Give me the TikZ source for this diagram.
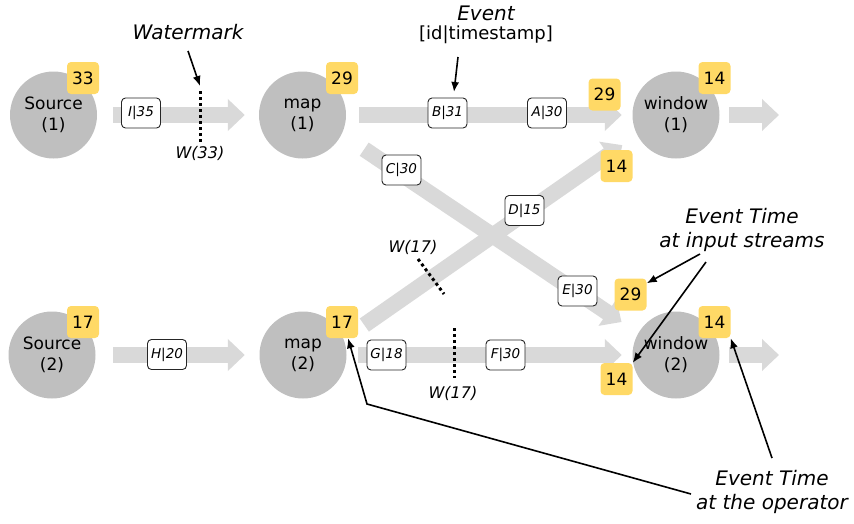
\documentclass[tikz,border=0pt]{standalone}
\usepackage{fontspec}
\setmainfont{DejaVu Sans}
\usetikzlibrary{arrows.meta,positioning}
\definecolor{opgray}{HTML}{BFBFBF}
\definecolor{flowgray}{HTML}{D9D9D9}
\definecolor{tsyellow}{HTML}{FFD966}
\tikzset{
	op/.style={shape=circle,fill=opgray,minimum size=87pt,inner sep=0pt,align=center,font=\fontsize{17}{21}\selectfont},
	flow/.style={draw=flowgray,line width=16pt,-{Triangle[length=17pt,width=31pt]}},
	ts/.style={fill=tsyellow,rounded corners=4pt,minimum size=32pt,inner sep=0pt,font=\fontsize{17}{20}\selectfont},
	evt/.style={draw=black!85,fill=white,rounded corners=4pt,minimum width=39pt,minimum height=30pt,inner sep=0pt,line width=0.9pt,font=\fontsize{13.5}{16}\selectfont\itshape},
	wm/.style={line width=3pt,dash pattern=on 3pt off 3pt},
	wmlabel/.style={font=\fontsize{16}{19}\selectfont\itshape},
	note/.style={align=center,font=\fontsize{20}{24}\selectfont\itshape},
	callout/.style={line width=1.6pt,-{Latex[length=10pt,width=8pt]}}
}
\begin{document}
\begin{tikzpicture}[x=1pt,y=-1pt]
	\useasboundingbox (0,0) rectangle (854,523);
	\path (53.5,115) node (src1) [op] {Source\\(1)}
		  (302.5,115) node (map1) [op] {map\\(1)}
		  (676,115) node (win1) [op] {window\\(1)}
		  (52,355) node (src2) [op] {Source\\(2)}
		  (303,355) node (map2) [op] {map\\(2)}
		  (676,355) node (win2) [op] {window\\(2)};
	\coordinate (out1) at (779,115);
	\coordinate (out2) at (779,355);
	\draw[flow,shorten <=27pt,shorten >=20pt] (map1.-26) -- (win2.150);
	\draw[flow,shorten <=25pt,shorten >=18pt] (map2.21) -- (win1.207);
	\draw[flow,shorten <=16pt,shorten >=14pt] (src1.east) -- (map1.west);
	\draw[flow,shorten <=13pt,shorten >=10.5pt] (map1.east) -- (win1.west);
	\draw[flow,shorten <=9.5pt] (win1.east) -- (out1);
	\draw[flow,shorten <=17.5pt,shorten >=14.5pt] (src2.east) -- (map2.west);
	\draw[flow,shorten <=11.5pt,shorten >=10.5pt] (map2.east) -- (win2.west);
	\draw[flow,shorten <=9.5pt] (win2.east) -- (out2);
	\path (83,78) node (b33) [ts] {33}
		  (342,78) node (b29m1) [ts] {29}
		  (604.5,94.5) node (b29w1) [ts] {29}
		  (714.5,78) node (b14w1) [ts] {14}
		  (616.5,166) node (b14w1in) [ts] {14}
		  (83,322) node (b17s2) [ts] {17}
		  (342,322) node (b17m2) [ts] {17}
		  (630.5,294.5) node (b29w2) [ts] {29}
		  (714.5,322) node (b14w2) [ts] {14}
		  (616.5,379) node (b14w2in) [ts] {14};
	\path (141,113) node (evI) [evt] {I|35}
		  (447.5,113) node (evB) [evt] {B|31}
		  (547,113) node (evA) [evt] {A|30}
		  (401.5,170) node (evC) [evt] {C|30}
		  (524.5,210.5) node (evD) [evt] {D|15}
		  (577.5,291) node (evE) [evt] {E|30}
		  (167,354.5) node (evH) [evt] {H|20}
		  (386.5,355) node (evG) [evt] {G|18}
		  (505.5,355) node (evF) [evt] {F|30};
	\coordinate (wm1a) at (200,91);
	\coordinate (wm1b) at (200,142);
	\coordinate (wm2a) at (418,259);
	\coordinate (wm2b) at (444,294);
	\coordinate (wm3a) at (454,328);
	\coordinate (wm3b) at (454,378);
	\draw[wm] (wm1a) -- (wm1b);
	\draw[wm] (wm2a) -- (wm2b);
	\draw[wm] (wm3a) -- (wm3b);
	\node (w33) [wmlabel] at (200,153) {W(33)};
	\node (w17a) [wmlabel] at (413,247) {W(17)};
	\node (w17b) [wmlabel] at (453,393) {W(17)};
	\node (wmlbl) [note] at (188,32) {Watermark};
	\node (evlbl) [note] at (486,13) {Event};
	\node (evsub) [font=\fontsize{18}{22}\selectfont] at (486,35) {[id|timestamp]};
	\node (instr) [note] at (742,230) {Event Time\\at input streams};
	\node (opt) [note] at (772,491.5) {Event Time\\at the operator};
	\coordinate (wmfrom) at (188,51);
	\coordinate (wmtip) at (200,86);
	\coordinate (evfrom) at (458,57);
	\coordinate (evtip) at (454,92);
	\coordinate (in1) at (700,254);
	\coordinate (in2) at (706,262);
	\coordinate (op1) at (772,458);
	\coordinate (op2) at (691,494);
	\coordinate (bend) at (367,404);
	\draw[callout] (wmfrom) -- (wmtip);
	\draw[callout] (evfrom) -- (evtip);
	\draw[callout] (in1) -- ([yshift=-5pt]b29w2.north east);
	\draw[callout] (in2) -- (b14w2in.north east);
	\draw[callout] (op1) -- (b14w2.south east);
	\draw[callout] (op2) -- (bend) -- ([xshift=6pt]b17m2.south);
\end{tikzpicture}
\end{document}
